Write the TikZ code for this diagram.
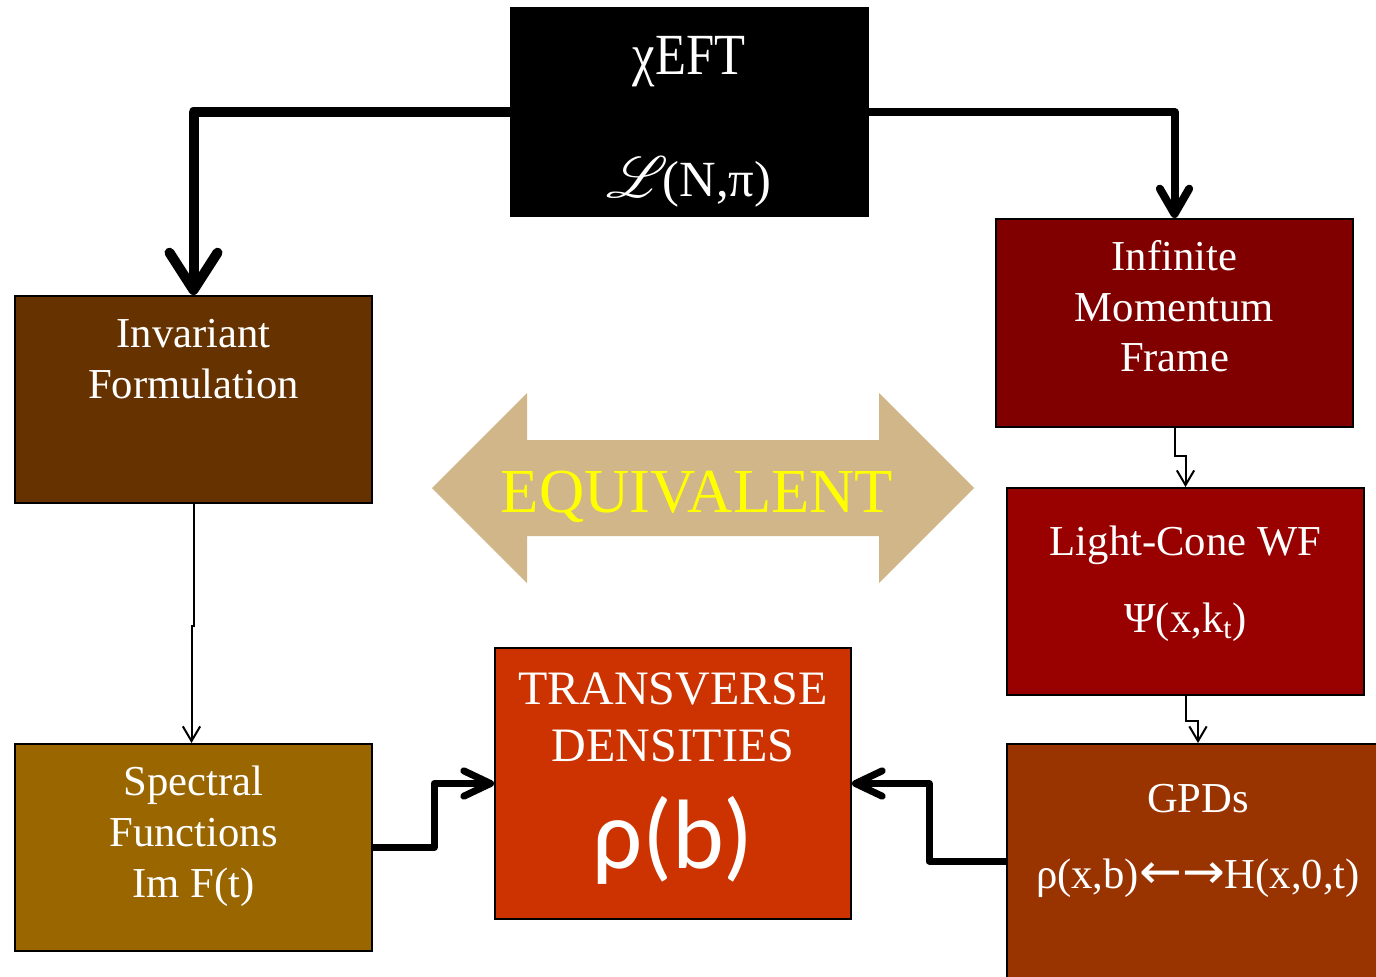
\RequirePackage{fix-cm}
\documentclass[tikz,border=0pt]{standalone}
\usepackage{fontspec}
\setmainfont{Liberation Serif}
\newfontfamily\carlito{Carlito}
\newfontfamily\dejavu{DejaVu Sans}
\usepackage{mathrsfs}
\usetikzlibrary{arrows.meta,fit,calc}
\definecolor{cinv}{HTML}{663300}
\definecolor{cimf}{HTML}{800000}
\definecolor{clc}{HTML}{990000}
\definecolor{cgpd}{HTML}{993300}
\definecolor{cspec}{HTML}{996600}
\definecolor{ctrans}{HTML}{CC3300}
\definecolor{ctan}{HTML}{D0B688}
\definecolor{cyel}{HTML}{FFFF00}
\begin{document}
\begin{tikzpicture}[x=0.75pt,y=-0.75pt,
  box/.style={draw=black,line width=1.5pt,inner sep=0pt},
  txt/.style={text=white,anchor=base,inner sep=0pt},
  fs/.style={font=\fontsize{32}{38}\selectfont},
  ft/.style={font=\fontsize{36}{43}\selectfont},
  bigA/.style={line width=7.5pt,line join=round,-{Straight Barb[length=28pt,width=36pt,round]}},
  midA/.style={line width=6pt,line join=round,-{Straight Barb[length=19pt,width=22pt,round]}},
  lowA/.style={line width=5.25pt,line join=round,-{Straight Barb[length=20pt,width=19pt,round]}},
  thinA/.style={line width=1.5pt,-{Straight Barb[length=11pt,width=13pt]}}]
\useasboundingbox (0,0) rectangle (1376,976);
\clip (0,0) rectangle (1376,976);
\fill[white] (0,0) rectangle (1376,976);

% boxes
\node[box,fill=black,fit={(511,8)(868,216)}] (top) {};
\node[box,fill=cinv,fit={(15,296)(372,503)}] (inv) {};
\node[box,fill=cimf,fit={(996,219)(1353,427)}] (imf) {};
\node[box,fill=clc,fit={(1007,488)(1364,695)}] (lc) {};
\node[box,fill=cgpd,fit={(1007,744)(1389,978)}] (gpd) {};
\node[box,fill=cspec,fit={(15,744)(372,951)}] (spec) {};
\node[box,fill=ctrans,fit={(495,648)(851,919)}] (trans) {};

% equivalent double arrow
\fill[ctan] (432,488) -- (527,393) -- (527,440) -- (879,440) -- (879,393) -- (974,488)
  -- (879,583) -- (879,536) -- (527,536) -- (527,583) -- cycle;
\node[anchor=base,inner sep=0pt,text=cyel,font=\fontsize{47}{56}\selectfont] (eq) at (697,512) {EQUIVALENT};

% texts
\node[txt] (t1) at (689,74) {\fontsize{38}{46}\selectfont\scalebox{1}[1.15]{χEFT}};
\node[txt] (t2) at (689,196) {\fontsize{38}{46}\selectfont\raisebox{-0.02em}{\scalebox{1.75}{$\mathscr{L}$}}\kern-0.12em(N,π)};
\node[txt,fs] (i1) at (193.5,347) {Invariant};
\node[txt,fs] (i2) at (193.5,398) {Formulation};
\node[txt,fs] (m1) at (1174.5,270) {Infinite};
\node[txt,fs] (m2) at (1174.5,321) {Momentum};
\node[txt,fs] (m3) at (1174.5,371) {Frame};
\node[txt,fs] (l1) at (1185.5,555) {Light-Cone WF};
\node[txt,fs] (l2) at (1185.5,632) {Ψ(x,k\textsubscript{t})};
\node[txt,fs] (g1) at (1198,812) {GPDs};
\node[txt,fs] (g2) at (1198,888) {ρ(x,b)\scalebox{1.2}[1.15]{\dejavu ←→}H(x,0,t)};
\node[txt,fs] (s1) at (193.5,795) {Spectral};
\node[txt,fs] (s2) at (193.5,846) {Functions};
\node[txt,fs] (s3) at (193.5,897) {Im F(t)};
\node[txt,ft] (r1) at (673,704) {TRANSVERSE};
\node[txt,ft] (r2) at (673,761) {DENSITIES};
\node[txt,font=\carlito\fontsize{74}{84}\selectfont] (r3) at (673,868) {ρ(b)};

% connectors
\draw[bigA] (top.west) -| (inv.north);
\draw[midA] (top.east) -| (imf.north);
\draw[thinA] (imf.south) -- ++(0,28) -| (lc.north);
\draw[thinA] (lc.south) -- ++(0,25) -| (gpd.north);
\coordinate (specin) at ($(spec.north)+(-2,0)$);
\draw[thinA] (inv.south) -- ++(0,122) -| (specin);
\draw[lowA] (spec.east) -- ++(61,0) |- (trans.west);
\draw[lowA] (gpd.west) -- ++(-77,0) |- (trans.east);
\end{tikzpicture}
\end{document}
